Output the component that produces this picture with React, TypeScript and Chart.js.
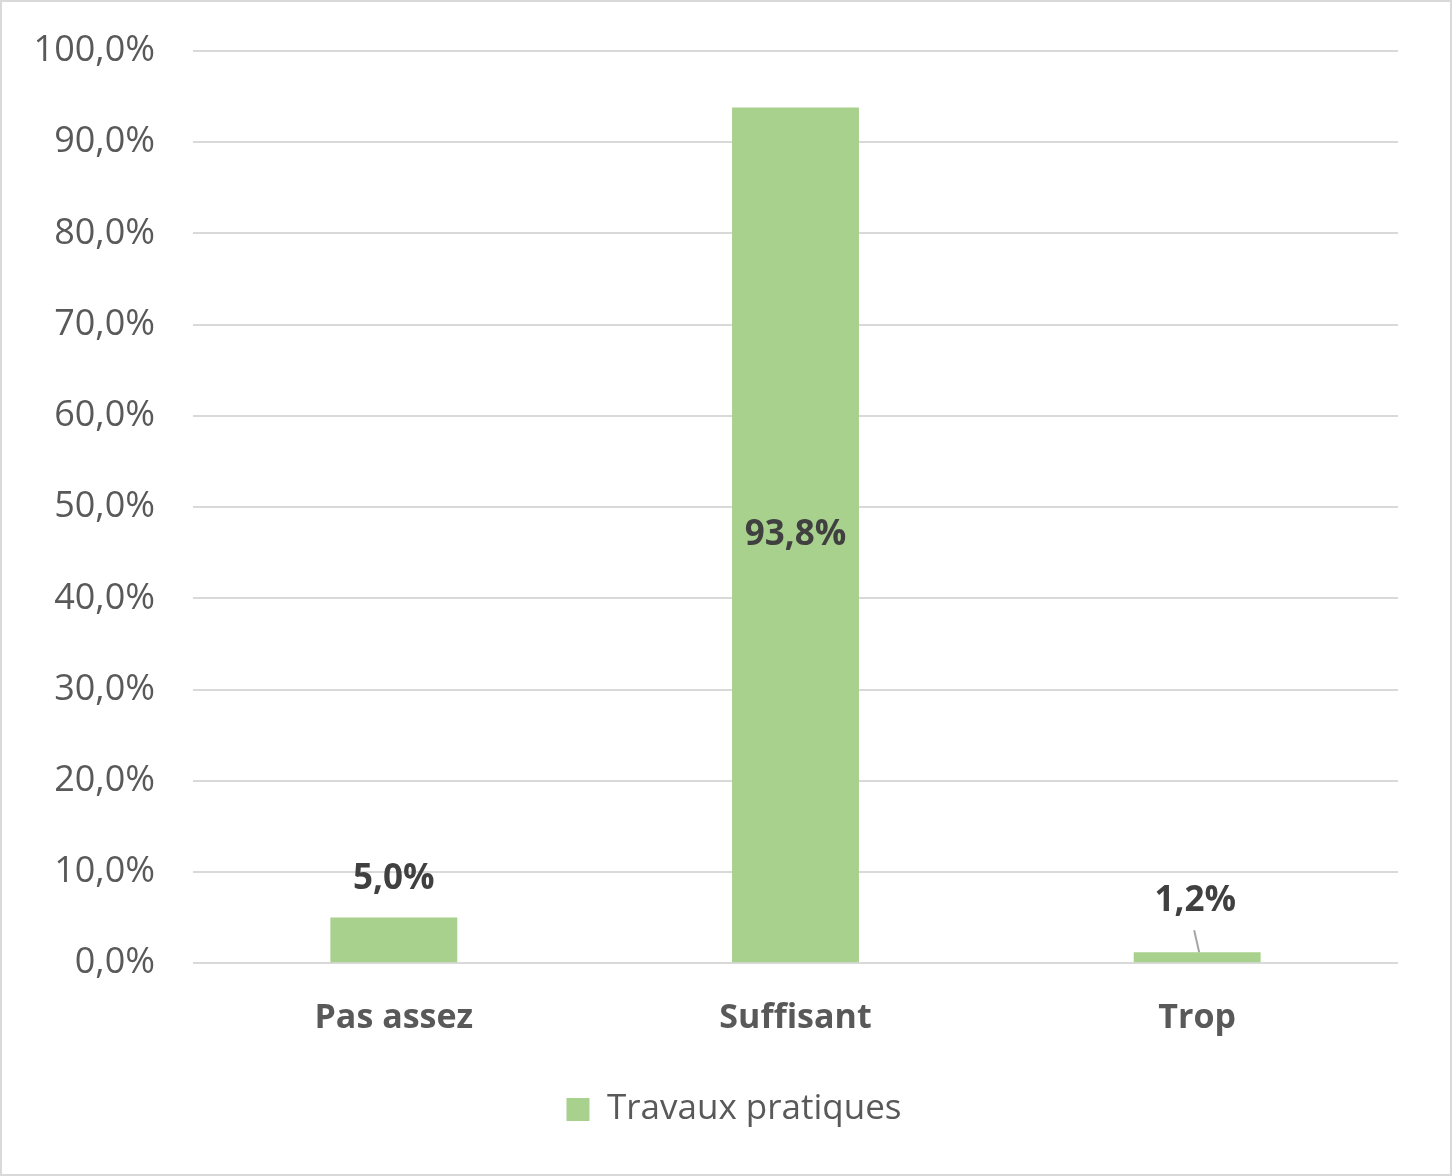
import React, { useEffect, useRef } from "react";
import { Chart, registerables } from "chart.js";

Chart.register(...registerables);

const categories = ["Pas assez", "Suffisant", "Trop"];
const seriesName = "Travaux pratiques";
const values = [5.0, 93.8, 1.2];
const labelPlacement = ["outside", "center", "leader"];

const FONT = "'Open Sans', 'Noto Sans', sans-serif";
const fmt = (v: number) => v.toFixed(1).replace(".", ",") + "%";

const dataLabelPlugin = {
  id: "dataLabels",
  afterDatasetsDraw(chart: any) {
    const ctx = chart.ctx;
    const meta = chart.getDatasetMeta(0);
    ctx.save();
    ctx.font = `bold 35px ${FONT}`;
    ctx.fillStyle = "#404040";
    ctx.textAlign = "center";
    ctx.textBaseline = "middle";
    meta.data.forEach((bar: any, i: number) => {
      const v = values[i];
      const p = labelPlacement[i];
      const text = fmt(v);
      if (p === "center") {
        ctx.fillText(text, bar.x, (bar.y + bar.base) / 2);
      } else if (p === "outside") {
        ctx.fillText(text, bar.x, bar.y - 39);
      } else {
        ctx.fillText(text, bar.x - 2, bar.y - 51);
        ctx.strokeStyle = "#a6a6a6";
        ctx.lineWidth = 2;
        ctx.beginPath();
        ctx.moveTo(bar.x - 3, bar.y - 22);
        ctx.lineTo(bar.x + 2, bar.y);
        ctx.stroke();
      }
    });
    ctx.restore();
  },
};

const legendShiftPlugin = {
  id: "legendShift",
  afterLayout(chart: any) {
    if (chart.legend) {
      chart.legend.left += 34;
      chart.legend.right += 34;
    }
  },
};

export default function App() {
  const ref = useRef<HTMLCanvasElement | null>(null);
  useEffect(() => {
    if (!ref.current) return;
    const chart = new Chart(ref.current, {
      type: "bar",
      data: {
        labels: categories,
        datasets: [
          {
            label: seriesName,
            data: values,
            backgroundColor: "#A9D18E",
            borderWidth: 0,
            categoryPercentage: 1,
            barPercentage: 0.316,
          },
        ],
      },
      options: {
        animation: false,
        responsive: true,
        maintainAspectRatio: false,
        layout: { padding: { left: 0, right: 52, top: 49, bottom: 37 } },
        plugins: {
          tooltip: { enabled: false },
          legend: {
            position: "bottom",
            labels: {
              boxWidth: 23,
              boxHeight: 23,
              color: "#595959",
              font: { family: FONT, size: 35 },
              padding: 26,
            },
          },
        },
        scales: {
          x: {
            grid: { display: false },
            border: { display: false },
            ticks: {
              color: "#595959",
              font: { family: FONT, size: 34, weight: "bold" },
              padding: 27,
            },
          },
          y: {
            min: 0,
            max: 100,
            grid: { color: "#d9d9d9", lineWidth: 2, drawTicks: false },
            border: { display: false },
            afterFit: (scale: any) => {
              scale.width = 191;
              scale.paddingTop = 0;
              scale.paddingBottom = 0;
            },
            ticks: {
              stepSize: 10,
              color: "#595959",
              font: { family: FONT, size: 36 },
              padding: 38,
              callback: (v: any) => fmt(Number(v)),
            },
          },
        },
      },
      plugins: [dataLabelPlugin, legendShiftPlugin],
    });
    return () => chart.destroy();
  }, []);
  return (
    <div
      style={{
        position: "absolute",
        left: 0,
        top: 0,
        width: 1452,
        height: 1176,
        boxSizing: "border-box",
        border: "2px solid #d9d9d9",
        background: "#fff",
      }}
    >
      <canvas ref={ref} />
    </div>
  );
}
